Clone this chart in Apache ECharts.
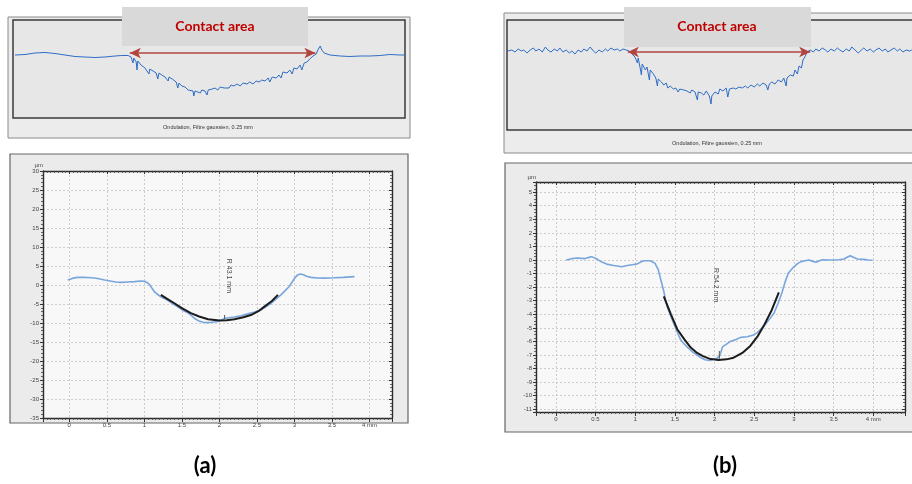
<!DOCTYPE html>
<html><head><meta charset="utf-8">
<script src="https://cdn.jsdelivr.net/npm/echarts@6/dist/echarts.min.js"></script>
<style>html,body{margin:0;padding:0;background:#fff}#c{width:912px;height:484px}</style>
</head><body><div id="c"></div>
<script>
// ---------- DATA ----------
// Top panel (a): roughness/waviness profile, x in mm, y in µm
const topProfileA = [[0.025,0],[0.15,0.125],[0.275,0.5],[0.4,0.625],[0.525,0.375],[0.65,0],[0.775,-0.375],[0.9,-0.5],[1.025,-0.625],[1.15,-0.5],[1.275,-0.25],[1.36,-0.125],[1.44,-0.125],[1.475,-0.5],[1.5,-2],[1.51,-0.75],[1.54,-1.75],[1.55,-3.75],[1.56,-1.5],[1.6,-2.5],[1.625,-2],[1.65,-3.25],[1.675,-2.75],[1.7,-4.75],[1.71,-3.5],[1.75,-4],[1.79,-4.5],[1.81,-6],[1.825,-4.5],[1.86,-5],[1.9,-5.5],[1.94,-6.5],[1.95,-5.5],[1.99,-6],[2.04,-6.75],[2.06,-8.25],[2.075,-7],[2.11,-7.75],[2.15,-8],[2.19,-8.75],[2.21,-8.5],[2.25,-9],[2.26,-10.25],[2.275,-9],[2.31,-9.25],[2.34,-9.5],[2.36,-8.75],[2.4,-9],[2.425,-10],[2.44,-8.75],[2.49,-8.5],[2.525,-8.25],[2.56,-8.75],[2.59,-8],[2.64,-8.25],[2.66,-7.75],[2.7,-8.25],[2.725,-7.5],[2.76,-7.75],[2.8,-7.25],[2.84,-7.75],[2.875,-7],[2.925,-7.25],[2.96,-6.75],[3.0,-7.25],[3.04,-6.5],[3.075,-6.75],[3.11,-6.25],[3.15,-6.5],[3.19,-5.75],[3.21,-6.75],[3.24,-5.5],[3.29,-5.75],[3.325,-5],[3.35,-5.75],[3.375,-4.25],[3.425,-4.5],[3.46,-3.75],[3.49,-4.75],[3.51,-3.25],[3.55,-3.5],[3.59,-2.5],[3.61,-3.75],[3.64,-2],[3.675,-1.75],[3.71,-1],[3.75,-0.25],[3.79,0.25],[3.81,1.25],[3.84,2.25],[3.86,1.25],[3.89,0.5],[3.96,0],[4.09,-0.25],[4.21,-0.375],[4.34,-0.25],[4.46,-0.25],[4.59,-0.125],[4.71,0.125],[4.84,0],[4.9,0]];
// Top panel (b)
const topProfileB = [[0.01,0],[0.06,0.25],[0.10,-0.25],[0.14,0.5],[0.18,0],[0.21,0.25],[0.25,-0.5],[0.29,0.25],[0.33,0.75],[0.36,0],[0.40,0.5],[0.44,-0.25],[0.48,1],[0.51,0.25],[0.55,-0.25],[0.59,0.5],[0.63,0],[0.66,0.75],[0.70,-0.25],[0.74,0.25],[0.78,-0.5],[0.81,0],[0.85,-0.75],[0.89,0.25],[0.93,-0.25],[0.96,0.5],[1.00,0],[1.04,1],[1.08,0],[1.11,-0.5],[1.15,0.25],[1.19,-0.25],[1.23,0.5],[1.26,0],[1.30,0.75],[1.34,0.25],[1.38,0.5],[1.41,0],[1.45,0.5],[1.49,0.25],[1.53,0],
  [1.56,-0.75],[1.60,-1.5],[1.63,-3],[1.64,-1.75],[1.66,-3.75],[1.68,-6],[1.69,-3.25],[1.73,-4.75],[1.75,-4],[1.78,-7.25],[1.79,-4.75],[1.83,-5.75],[1.86,-6.75],[1.88,-8.75],[1.89,-7],[1.93,-7.75],[1.96,-8.5],[1.99,-8],[2.01,-9.25],[2.04,-8.75],[2.08,-9.5],[2.11,-9.25],[2.14,-10.25],[2.16,-9.5],[2.21,-9.75],[2.25,-10],[2.29,-10.5],[2.31,-9.75],[2.35,-10.25],[2.38,-12.25],[2.39,-10.25],[2.43,-10.5],[2.46,-11],[2.49,-10],[2.53,-11.25],[2.55,-13.25],[2.56,-11.25],[2.60,-10.25],[2.64,-10.75],[2.66,-9.5],[2.70,-10],[2.74,-9.25],[2.76,-11.5],[2.78,-9.5],[2.83,-9.25],[2.86,-9.5],[2.90,-9],[2.94,-9.25],[2.98,-8.75],[3.01,-9.25],[3.05,-8.5],[3.09,-9],[3.13,-8.25],[3.16,-8.75],[3.20,-8],[3.24,-8.5],[3.26,-9.75],[3.28,-8.25],[3.31,-7.75],[3.35,-8.25],[3.39,-7.25],[3.43,-7.75],[3.46,-6.75],[3.49,-8.75],[3.50,-6.75],[3.54,-6],[3.58,-6.25],[3.60,-4.75],[3.63,-5.75],[3.65,-3.75],[3.68,-4.25],[3.70,-2.25],[3.73,-1.25],[3.75,-0.25],
  [3.79,0.25],[3.83,-0.25],[3.86,0.5],[3.90,0],[3.94,0.75],[3.98,0.25],[4.01,-0.25],[4.05,0.5],[4.09,0],[4.13,0.75],[4.16,0.25],[4.20,-0.25],[4.24,0.5],[4.28,0],[4.31,1],[4.35,0.25],[4.39,-0.5],[4.43,0.25],[4.46,0.75],[4.50,0],[4.54,0.5],[4.58,-0.25],[4.61,0.25],[4.65,0.75],[4.69,0],[4.73,0.5],[4.76,-0.25],[4.80,0.25],[4.84,0.75],[4.88,0],[4.91,0.5],[4.95,-0.25],[4.99,0.25],[5.03,0],[5.06,0.25]];
// Contact-area extent on each top profile (mm) and arrow height (µm)
const contactA = [1.46, 3.78, 0.5];
const contactB = [1.51, 3.79, -0.25];

// Lower chart (a): measured profile and circle fit
const profileA = [[-0.02,1.3],[0.05,1.8],[0.11,2.0],[0.2,2.0],[0.3,1.9],[0.38,1.7],[0.47,1.3],[0.56,1.0],[0.62,0.8],[0.69,0.7],[0.78,0.8],[0.87,0.9],[0.95,1.05],[1.0,1.0],[1.04,0.6],[1.07,0.1],[1.1,-0.8],[1.14,-1.9],[1.18,-2.5],[1.22,-3.1],[1.3,-3.9],[1.37,-4.8],[1.44,-5.7],[1.52,-6.7],[1.58,-7.3],[1.62,-7.9],[1.67,-8.8],[1.73,-9.5],[1.78,-9.8],[1.84,-9.9],[1.9,-9.8],[1.98,-9.6],[2.03,-9.2],[2.07,-8.8],[2.12,-8.6],[2.2,-8.4],[2.29,-8.1],[2.38,-7.6],[2.47,-7.1],[2.56,-6.5],[2.63,-5.6],[2.69,-4.8],[2.75,-3.8],[2.82,-2.6],[2.88,-1.4],[2.93,-0.4],[2.97,0.8],[3.0,1.75],[3.04,2.6],[3.08,2.9],[3.12,2.7],[3.16,2.3],[3.22,2.0],[3.3,1.85],[3.4,1.8],[3.53,1.9],[3.65,2.0],[3.8,2.2]];
const fitA = [[1.22,-2.6],[1.3,-3.6],[1.4,-4.8],[1.5,-6.1],[1.62,-7.4],[1.73,-8.3],[1.85,-9.0],[2.0,-9.36],[2.1,-9.3],[2.2,-9.0],[2.32,-8.5],[2.42,-7.9],[2.52,-6.9],[2.6,-5.7],[2.7,-4.2],[2.78,-2.6]];
const markA = [[2.07,-7.9],[2.07,-9.0]];
const radiusA = { text: 'R 43.1 mm', at: [2.13, 2.4] };

// Lower chart (b)
const profileB = [[0.13,0],[0.2,0.1],[0.27,0.15],[0.36,0.1],[0.45,0.25],[0.52,0.07],[0.58,-0.15],[0.64,-0.3],[0.73,-0.4],[0.83,-0.5],[0.9,-0.4],[0.96,-0.35],[1.02,-0.3],[1.07,-0.15],[1.11,-0.05],[1.19,-0.05],[1.25,-0.25],[1.29,-0.7],[1.32,-1.4],[1.36,-2.3],[1.40,-3.4],[1.44,-4.0],[1.48,-4.6],[1.53,-5.3],[1.57,-5.85],[1.62,-6.2],[1.67,-6.5],[1.73,-6.8],[1.78,-7.0],[1.83,-7.2],[1.88,-7.35],[1.94,-7.4],[1.99,-7.3],[2.03,-7.25],[2.06,-7.1],[2.08,-6.8],[2.10,-6.4],[2.15,-6.2],[2.2,-6.0],[2.27,-5.85],[2.33,-5.7],[2.41,-5.65],[2.48,-5.55],[2.54,-5.35],[2.59,-5.05],[2.64,-4.75],[2.70,-4.3],[2.75,-3.9],[2.80,-3.2],[2.85,-2.4],[2.89,-1.6],[2.93,-0.95],[3.0,-0.5],[3.05,-0.25],[3.09,-0.12],[3.14,-0.05],[3.19,0],[3.24,-0.1],[3.28,-0.17],[3.32,-0.05],[3.36,0.02],[3.44,0],[3.51,0],[3.57,0.02],[3.63,0.07],[3.67,0.2],[3.71,0.32],[3.75,0.2],[3.8,0.07],[3.88,0.05],[3.94,0],[3.99,-0.02]];
const fitB = [[1.36,-2.68],[1.45,-4.0],[1.53,-5.1],[1.62,-5.85],[1.70,-6.45],[1.78,-6.85],[1.86,-7.1],[1.95,-7.3],[2.05,-7.36],[2.15,-7.32],[2.24,-7.2],[2.35,-6.85],[2.45,-6.33],[2.54,-5.65],[2.62,-4.85],[2.72,-3.7],[2.81,-2.39]];
const markB = [[2.06,-6.7],[2.06,-7.3]];
const radiusB = { text: 'R 54.2 mm', at: [2.02, -1.85] };

// Axis ranges / tick labels
const xRangeA = [-0.35, 4.3], yRangeA = [-35, 30], yStepA = 5;
const xRangeB = [-0.25, 4.4], yRangeB = [-11.2, 5.75];
const xUnitLabel = '4 mm', yUnitName = 'µm';
const caption = 'Ondulation, Filtre gaussien, 0.25 mm';
const boxTitle = 'Contact area';
const panelTitles = ['(a)', '(b)'];

// ---------- CHART ----------
const chart = echarts.init(document.getElementById('c'), null, {renderer: 'canvas'});
const LBL = {fontFamily: 'Liberation Sans, Arial, sans-serif'};
const TITLE_FONT = 'Lato, Carlito, sans-serif';

function hiddenAxis(grid, min, max) {
  return {type: 'value', gridIndex: grid, min: min, max: max, show: false};
}
function lowX(grid, r, pos) {
  const bottom = pos === 'bottom';
  return {
    type: 'value', gridIndex: grid, position: pos, min: r[0], max: r[1], splitNumber: 9, z: 2,
    axisLine: {show: true, onZero: false, lineStyle: {color: '#2b2b2b', width: 1.4}},
    axisTick: {show: true, inside: !bottom, length: bottom ? 4 : 3, lineStyle: {color: '#333', width: 1}},
    minorTick: {show: true, splitNumber: 10, length: 2, lineStyle: {color: '#444', width: 0.8}},
    axisLabel: {show: bottom, fontSize: 6, color: '#444', margin: 4, showMinLabel: false, showMaxLabel: false,
      fontFamily: LBL.fontFamily,
      formatter: v => Math.abs(v - 4) < 1e-6 ? xUnitLabel : String(+(+v).toFixed(2))},
    splitLine: {show: bottom, lineStyle: {color: '#c2c2c2', width: 0.8, type: [2, 2]}}
  };
}
function lowY(grid, r, pos, step, nsplit) {
  const left = pos === 'left';
  const o = {
    type: 'value', gridIndex: grid, position: pos, min: r[0], max: r[1], z: 2,
    axisLine: {show: true, onZero: false, lineStyle: {color: '#2b2b2b', width: 1.4}},
    axisTick: {show: true, inside: !left, length: 3, lineStyle: {color: '#333', width: 1}},
    minorTick: {show: true, splitNumber: step === 5 ? 5 : 4, length: 2, lineStyle: {color: '#444', width: 0.8}},
    axisLabel: {show: left, fontSize: 6, color: '#444', margin: 4, fontFamily: LBL.fontFamily,
      showMinLabel: step === 5, showMaxLabel: step === 5},
    splitLine: {show: left, lineStyle: {color: '#c2c2c2', width: 0.8, type: [2, 2]}}
  };
  if (left) {
    o.name = yUnitName; o.nameLocation = 'end'; o.nameGap = 2;
    o.nameTextStyle = {fontSize: 6, color: '#444', align: 'right', fontFamily: LBL.fontFamily};
  }
  if (step) o.interval = step; else o.splitNumber = nsplit;
  return o;
}
function arrowLine(c) {
  return {
    silent: true, symbol: ['arrow', 'arrow'], symbolSize: [8, 11], animation: false,
    itemStyle: {color: '#b2443f'},
    lineStyle: {color: '#b2443f', width: 1.6, type: 'solid'}, label: {show: false}, emphasis: {disabled: true},
    data: [[{coord: [c[0], c[2]]}, {coord: [c[1], c[2]]}]]
  };
}
function radiusLabel(xi, yi, r) {
  return {type: 'scatter', xAxisIndex: xi, yAxisIndex: yi, symbolSize: 0, silent: true, z: 6,
    data: [r.at], label: {show: true, position: 'inside', rotate: -90, formatter: r.text, fontSize: 7,
      color: '#111', fontFamily: LBL.fontFamily}};
}
function line(xi, yi, data, color, width, z) {
  return {type: 'line', xAxisIndex: xi, yAxisIndex: yi, data: data, showSymbol: false, symbol: 'none',
    silent: true, z: z || 3, lineStyle: {color: color, width: width}, animation: false};
}

const frame = (x, y, w, h, fill, stroke, lw, z) => ({type: 'rect', z: z, silent: true,
  shape: {x: x, y: y, width: w, height: h}, style: {fill: fill, stroke: stroke, lineWidth: lw}});
const txt = (x, y, t, size, color, weight, z, fam) => ({type: 'text', x: x, y: y, z: z, silent: true,
  style: {text: t, fontSize: size, fill: color, fontWeight: weight, align: 'center', verticalAlign: 'middle',
    fontFamily: fam || LBL.fontFamily}});

const seriesTopA = line(0, 0, topProfileA, '#2f6dc6', 1, 3); seriesTopA.markLine = arrowLine(contactA);
const seriesTopB = line(1, 1, topProfileB, '#2f6dc6', 1, 3); seriesTopB.markLine = arrowLine(contactB);

function zoneColors(idx, c, outside, inside) {
  return {type: 'piecewise', show: false, seriesIndex: idx, dimension: 0,
    pieces: [{lt: c[0] - 0.03, color: outside}, {gte: c[0] - 0.03, lte: c[1] + 0.08, color: inside},
      {gt: c[1] + 0.08, color: outside}]};
}

chart.setOption({
  animation: false,
  backgroundColor: '#ffffff',
  visualMap: [
    zoneColors(0, contactA, '#2d4b7c', '#2e70cc'),
    zoneColors(1, contactB, '#3567b4', '#2e70cc')
  ],
  graphic: [
    // panel (a) top
    frame(8, 17, 402, 121, '#ececec', '#8a8a8a', 1, -10),
    frame(13, 20, 392, 98, '#e7e7e7', '#3a3a3a', 1.5, -9),
    txt(208, 127, caption, 5.5, '#333', 'normal', 1),
    // panel (b) top
    frame(504, 13, 420, 140, '#ececec', '#8a8a8a', 1, -10),
    frame(507, 20, 420, 110, '#e7e7e7', '#3a3a3a', 1.5, -9),
    txt(717, 143, caption, 5.5, '#333', 'normal', 1),
    // lower frames
    frame(10, 154, 398, 269, '#ebebeb', '#666', 1.2, -10),
    frame(505, 163, 420, 269, '#ebebeb', '#666', 1.2, -10),
    // contact area boxes
    frame(122, 7, 186, 39, '#d9d9d9', null, 0, 20),
    txt(215, 26.5, boxTitle, 14, '#c00000', 'bold', 21, TITLE_FONT),
    frame(624, 7, 187, 40, '#d9d9d9', null, 0, 20),
    txt(717, 26.5, boxTitle, 14, '#c00000', 'bold', 21, TITLE_FONT),
    // panel titles
    txt(205, 466, panelTitles[0], 22, '#000', 'bold', 21, TITLE_FONT),
    txt(725, 466, panelTitles[1], 22, '#000', 'bold', 21, TITLE_FONT)
  ],
  grid: [
    {left: 13, top: 20, width: 392, height: 98, show: false},
    {left: 507, top: 20, width: 405, height: 110, show: false},
    {left: 43, top: 171, width: 349, height: 247, show: true, backgroundColor: '#f8f8f8', borderWidth: 0, z: 1},
    {left: 536, top: 182, width: 369, height: 230, show: true, backgroundColor: '#f8f8f8', borderWidth: 0, z: 1}
  ],
  xAxis: [
    hiddenAxis(0, 0, 4.9),
    hiddenAxis(1, 0, 5.0625),
    lowX(2, xRangeA, 'bottom'),
    lowX(2, xRangeA, 'top'),
    lowX(3, xRangeB, 'bottom'),
    lowX(3, xRangeB, 'top')
  ],
  yAxis: [
    hiddenAxis(0, -15.75, 8.75),
    hiddenAxis(1, -19.75, 7.75),
    lowY(2, yRangeA, 'left', yStepA),
    lowY(2, yRangeA, 'right', yStepA),
    lowY(3, yRangeB, 'left', 0, 17),
    lowY(3, yRangeB, 'right', 0, 17)
  ],
  series: [
    seriesTopA,
    seriesTopB,
    line(2, 2, profileA, '#79a5dd', 1.6, 3),
    line(2, 2, fitA, '#1c1c1c', 2, 4),
    line(2, 2, markA, '#555', 1, 5),
    radiusLabel(2, 2, radiusA),
    line(4, 4, profileB, '#79a5dd', 1.6, 3),
    line(4, 4, fitB, '#1c1c1c', 2, 4),
    line(4, 4, markB, '#555', 1, 5),
    radiusLabel(4, 4, radiusB)
  ]
});
</script></body></html>
